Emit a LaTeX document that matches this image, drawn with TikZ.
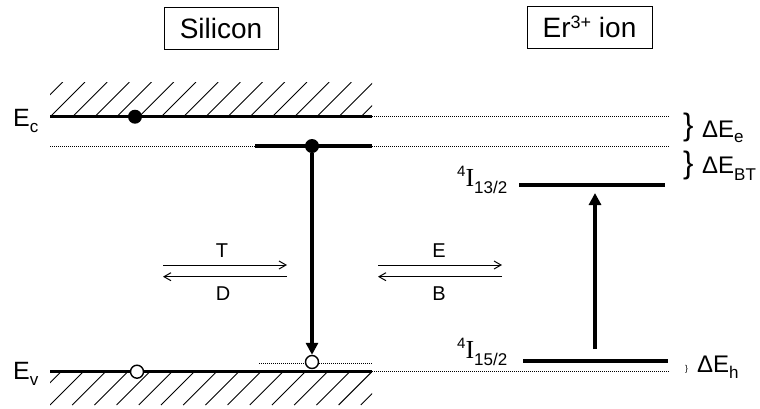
\documentclass[tikz,border=0pt]{standalone}
\usepackage{fontspec}
\setmainfont{Liberation Sans}
\newfontfamily\tms{Liberation Serif}
\usetikzlibrary{arrows.meta}
\begin{document}
\begin{tikzpicture}[x=1pt,y=-1pt,
  band/.style={line width=3.2pt},
  lvl/.style={line width=4pt},
  dots/.style={line width=0.8pt, dash pattern=on 1pt off 1pt},
  hatch/.style={line width=0.9pt},
  bigarrow/.style={line width=4pt,-{Triangle[length=12pt,width=12pt]}},
  thinarrow/.style={line width=1pt,-{Straight Barb[length=7pt,width=8pt]}},
  lbl/.style={inner sep=0pt, font=\fontsize{20}{22}\selectfont},
  txt/.style={inner sep=0pt, anchor=base west},
  title/.style={draw,line width=1pt,minimum width=114pt,minimum height=42pt,inner sep=0pt,font=\fontsize{28}{30}\selectfont},
  fdot/.style={circle,fill=black,inner sep=0pt,minimum size=14pt},
  odot/.style={circle,draw=black,fill=white,line width=1.4pt,inner sep=0pt,minimum size=13pt}]
\useasboundingbox (0,0) rectangle (760,408);

% titles
\node[title] (si) at (221,28) {Silicon};
\node[title,minimum width=125pt] (er) at (589.5,27) {Er\raisebox{9.5pt}{\fontsize{18}{18}\selectfont 3+} ion};

% hatching
\begin{scope}
\clip (50,82) rectangle (372,117);
\foreach \k in {-2,...,15} \draw[hatch] ({50+22.2*\k},117) -- ++(35,-35);
\end{scope}
\begin{scope}
\clip (50,372) rectangle (372,405);
\foreach \k in {-2,...,15} \draw[hatch] ({50+22.2*\k},405) -- ++(33,-33);
\end{scope}

% coordinates
\coordinate (ecL) at (50,116.7);
\coordinate (ecR) at (372,116.7);
\coordinate (ecE) at (670,116.7);
\coordinate (ddL) at (50,146);
\coordinate (ddM) at (255,146);
\coordinate (ddR) at (372,146);
\coordinate (ddE) at (670,146);
\coordinate (evL) at (50,371.7);
\coordinate (evR) at (372,371.7);
\coordinate (evE) at (670,371.7);
\coordinate (aaL) at (259,363);
\coordinate (aaR) at (372,363);
\coordinate (upL) at (519,185);
\coordinate (upR) at (665,185);
\coordinate (gdL) at (523,360.7);
\coordinate (gdR) at (668,360.7);
\coordinate (exS) at (595,349);
\coordinate (exT) at (595,193);

% bands and levels
\draw[band] (ecL) -- (ecR);
\draw[dots] (ecR) -- (ecE);
\draw[dots] (ddL) -- (ddM);
\draw[band] (ddM) -- (ddR);
\draw[dots] (ddR) -- (ddE);
\draw[band] (evL) -- (evR);
\draw[dots] (evR) -- (evE);
\draw[dots] (aaL) -- (aaR);
\draw[lvl] (upL) -- (upR);
\draw[lvl] (gdL) -- (gdR);

% carriers
\node[fdot] (e1) at (135,116.7) {};
\node[fdot] (e2) at (312,146) {};
\node[odot] (h1) at (137,371.7) {};
\node[odot] (h2) at (312,362) {};

% vertical arrows
\draw[bigarrow] (e2) -- (h2);
\draw[bigarrow] (exS) -- (exT);

% thin arrows
\coordinate (tA) at (163,265);
\coordinate (tB) at (287,265);
\coordinate (dA) at (287,276.7);
\coordinate (dB) at (163,276.7);
\coordinate (eA) at (378,265);
\coordinate (eB) at (502,265);
\coordinate (bA) at (502,276.7);
\coordinate (bB) at (378,276.7);
\draw[thinarrow] (tA) -- (tB);
\draw[thinarrow] (dA) -- (dB);
\draw[thinarrow] (eA) -- (eB);
\draw[thinarrow] (bA) -- (bB);
\node[lbl,anchor=base] (lT) at (222,257) {T};
\node[lbl,anchor=base] (lD) at (223,300.7) {D};
\node[lbl,anchor=base] (lE) at (439,257) {E};
\node[lbl,anchor=base] (lB) at (439,300.7) {B};

% band labels
\node[txt] (lEc) at (13,126) {\fontsize{25}{25}\selectfont E\raisebox{-6.5pt}{\fontsize{17}{17}\selectfont c}};
\node[txt] (lEv) at (13,379) {\fontsize{25}{25}\selectfont E\raisebox{-6.5pt}{\fontsize{17}{17}\selectfont v}};

% Er level labels
\node[txt] (l13) at (457,186) {\raisebox{10pt}{\fontsize{15}{15}\selectfont 4}{\fontsize{26}{26}\selectfont\tms I}\raisebox{-7pt}{\fontsize{17}{17}\selectfont 13/2}};
\node[txt] (l15) at (457,358) {\raisebox{10pt}{\fontsize{15}{15}\selectfont 4}{\fontsize{26}{26}\selectfont\tms I}\raisebox{-7pt}{\fontsize{17}{17}\selectfont 15/2}};

% energy differences
\node[txt] (b1) at (683,135.7) {\fontsize{31}{31}\selectfont\}};
\node[txt] (d1) at (702,137) {\fontsize{24}{24}\selectfont ΔE\raisebox{-5pt}{\fontsize{17}{17}\selectfont e}};
\node[txt] (b2) at (683,173) {\fontsize{31}{31}\selectfont\}};
\node[txt] (d2) at (702,173) {\fontsize{24}{24}\selectfont ΔE\raisebox{-7pt}{\fontsize{17}{17}\selectfont BT}};
\node[txt] (b3) at (685,371) {\fontsize{8.5}{9}\selectfont\}};
\node[txt] (d3) at (697,372) {\fontsize{24}{24}\selectfont ΔE\raisebox{-6.3pt}{\fontsize{17}{17}\selectfont h}};
\end{tikzpicture}
\end{document}
